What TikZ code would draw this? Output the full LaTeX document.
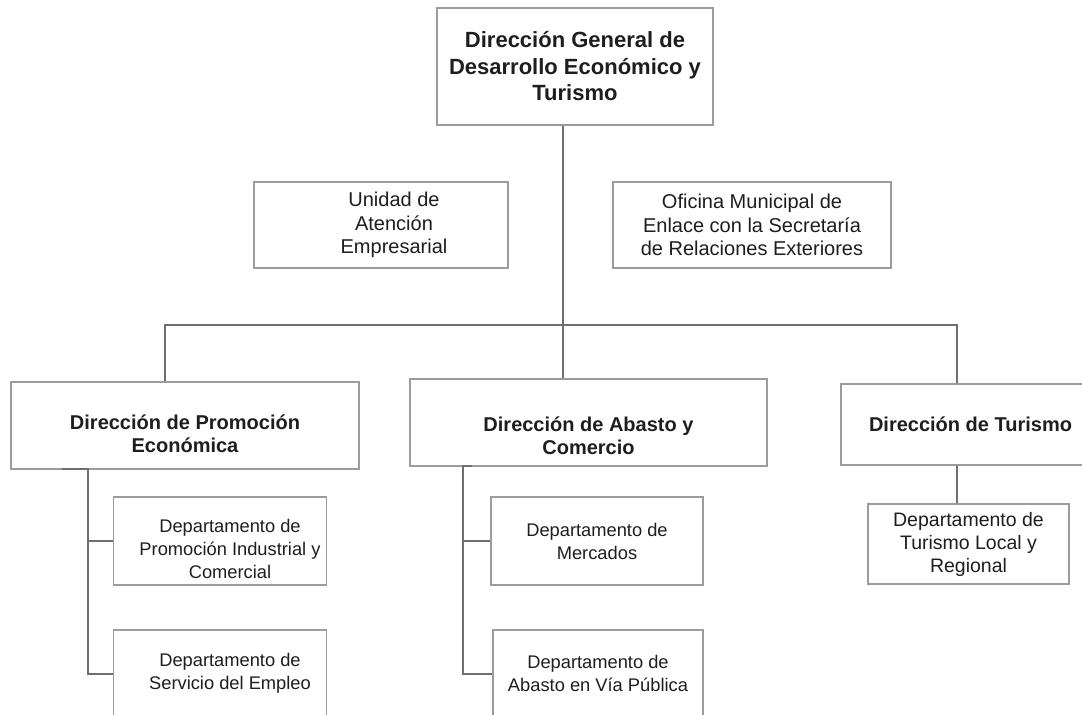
\documentclass[tikz,border=0pt]{standalone}
\usepackage{fontspec}
\setmainfont{Liberation Sans}
\definecolor{boxgray}{HTML}{9C9C9C}
\definecolor{linkgray}{HTML}{6E6E6E}
\definecolor{txtgray}{HTML}{1E1E1E}
\tikzset{
  box/.style={draw=boxgray, line width=1.4pt, fill=white, inner sep=2pt},
  dirtext/.style={align=center, text=txtgray, font=\fontsize{20}{23}\selectfont\bfseries},
  deptext/.style={align=center, text=txtgray, font=\fontsize{18.3}{23}\selectfont},
  stafftext/.style={align=center, text=txtgray, font=\fontsize{20}{23.5}\selectfont},
  dirbox/.style={box, dirtext},
  depbox/.style={box, deptext},
  link/.style={draw=linkgray, line width=2pt},
}
\begin{document}
\begin{tikzpicture}[x=1pt, y=-1pt]
    % page frame, boxes run off the right and bottom edges
    \useasboundingbox (0,0) rectangle (1082,715);
    \clip (0,0) rectangle (1082,715);

    % head office
    \node[dirbox, font=\fontsize{22}{26.5}\selectfont\bfseries, minimum width=276pt, minimum height=117pt] (gral) at (575,66.5) {Dirección General de\\Desarrollo Económico y\\Turismo};

    % staff units
    \node[box, minimum width=254pt, minimum height=86pt, label={[stafftext, xshift=13pt]center:{Unidad de\\Atención\\Empresarial}}] (unidad) at (381,225) {};
    \node[box, stafftext, minimum width=278pt, minimum height=86pt] (oficina) at (752,225) {Oficina Municipal de\\Enlace con la Secretaría\\de Relaciones Exteriores};

    % directions
    \node[box, minimum width=348pt, minimum height=87pt, label={[dirtext, yshift=-8pt]center:{Dirección de Promoción\\Económica}}] (promo) at (185,425.5) {};
    \node[box, minimum width=357pt, minimum height=87pt, label={[dirtext, yshift=-13pt]center:{Dirección de Abasto y\\Comercio}}] (abasto) at (588.5,422.5) {};
    \node[dirbox, minimum width=259pt, minimum height=81pt] (turismo) at (970.5,424.5) {Dirección de Turismo};

    % departments
    \node[box, minimum width=213pt, minimum height=88pt, label={[deptext, xshift=10pt, yshift=-8pt]center:{Departamento de\\Promoción Industrial y\\Comercial}}] (deppromo) at (220,541) {};
    \node[box, minimum width=213pt, minimum height=87pt, label={[deptext, xshift=10pt]center:{Departamento de\\Servicio del Empleo}}] (servicio) at (220,673.5) {};
    \node[depbox, minimum width=212pt, minimum height=88pt] (mercados) at (597,541) {Departamento de\\Mercados};
    \node[depbox, minimum width=210pt, minimum height=87pt] (viapub) at (598,673.5) {Departamento de\\Abasto en Vía Pública};
    \node[depbox, font=\fontsize{19.5}{23}\selectfont, minimum width=201pt, minimum height=80pt] (turlocal) at (968.5,544) {Departamento de\\Turismo Local y\\Regional};

    % main bus
    \coordinate (trunk) at (563,325);
    \coordinate (busL) at (165,325);
    \coordinate (busR) at (957,325);
    \draw[link] (trunk |- gral.south) -- (trunk);
    \draw[link] (busL |- promo.north) -- (busL) -- (busR) -- (busR |- turismo.north);
    \draw[link] (trunk) -- (trunk |- abasto.north);

    % spines down to the departments
    \coordinate (stubL) at (62,469);
    \coordinate (spineL) at (88,469);
    \draw[link] (stubL) -- (spineL) |- (deppromo.west);
    \draw[link] (spineL) |- (servicio.west);
    \coordinate (spineM) at (463,466);
    \coordinate (stubM) at (472,466);
    \draw[link] (stubM) -- (spineM) |- (mercados.west);
    \draw[link] (spineM) |- (viapub.west);
    \draw[link] (busR |- turismo.south) -- (busR |- turlocal.north);
\end{tikzpicture}
\end{document}
